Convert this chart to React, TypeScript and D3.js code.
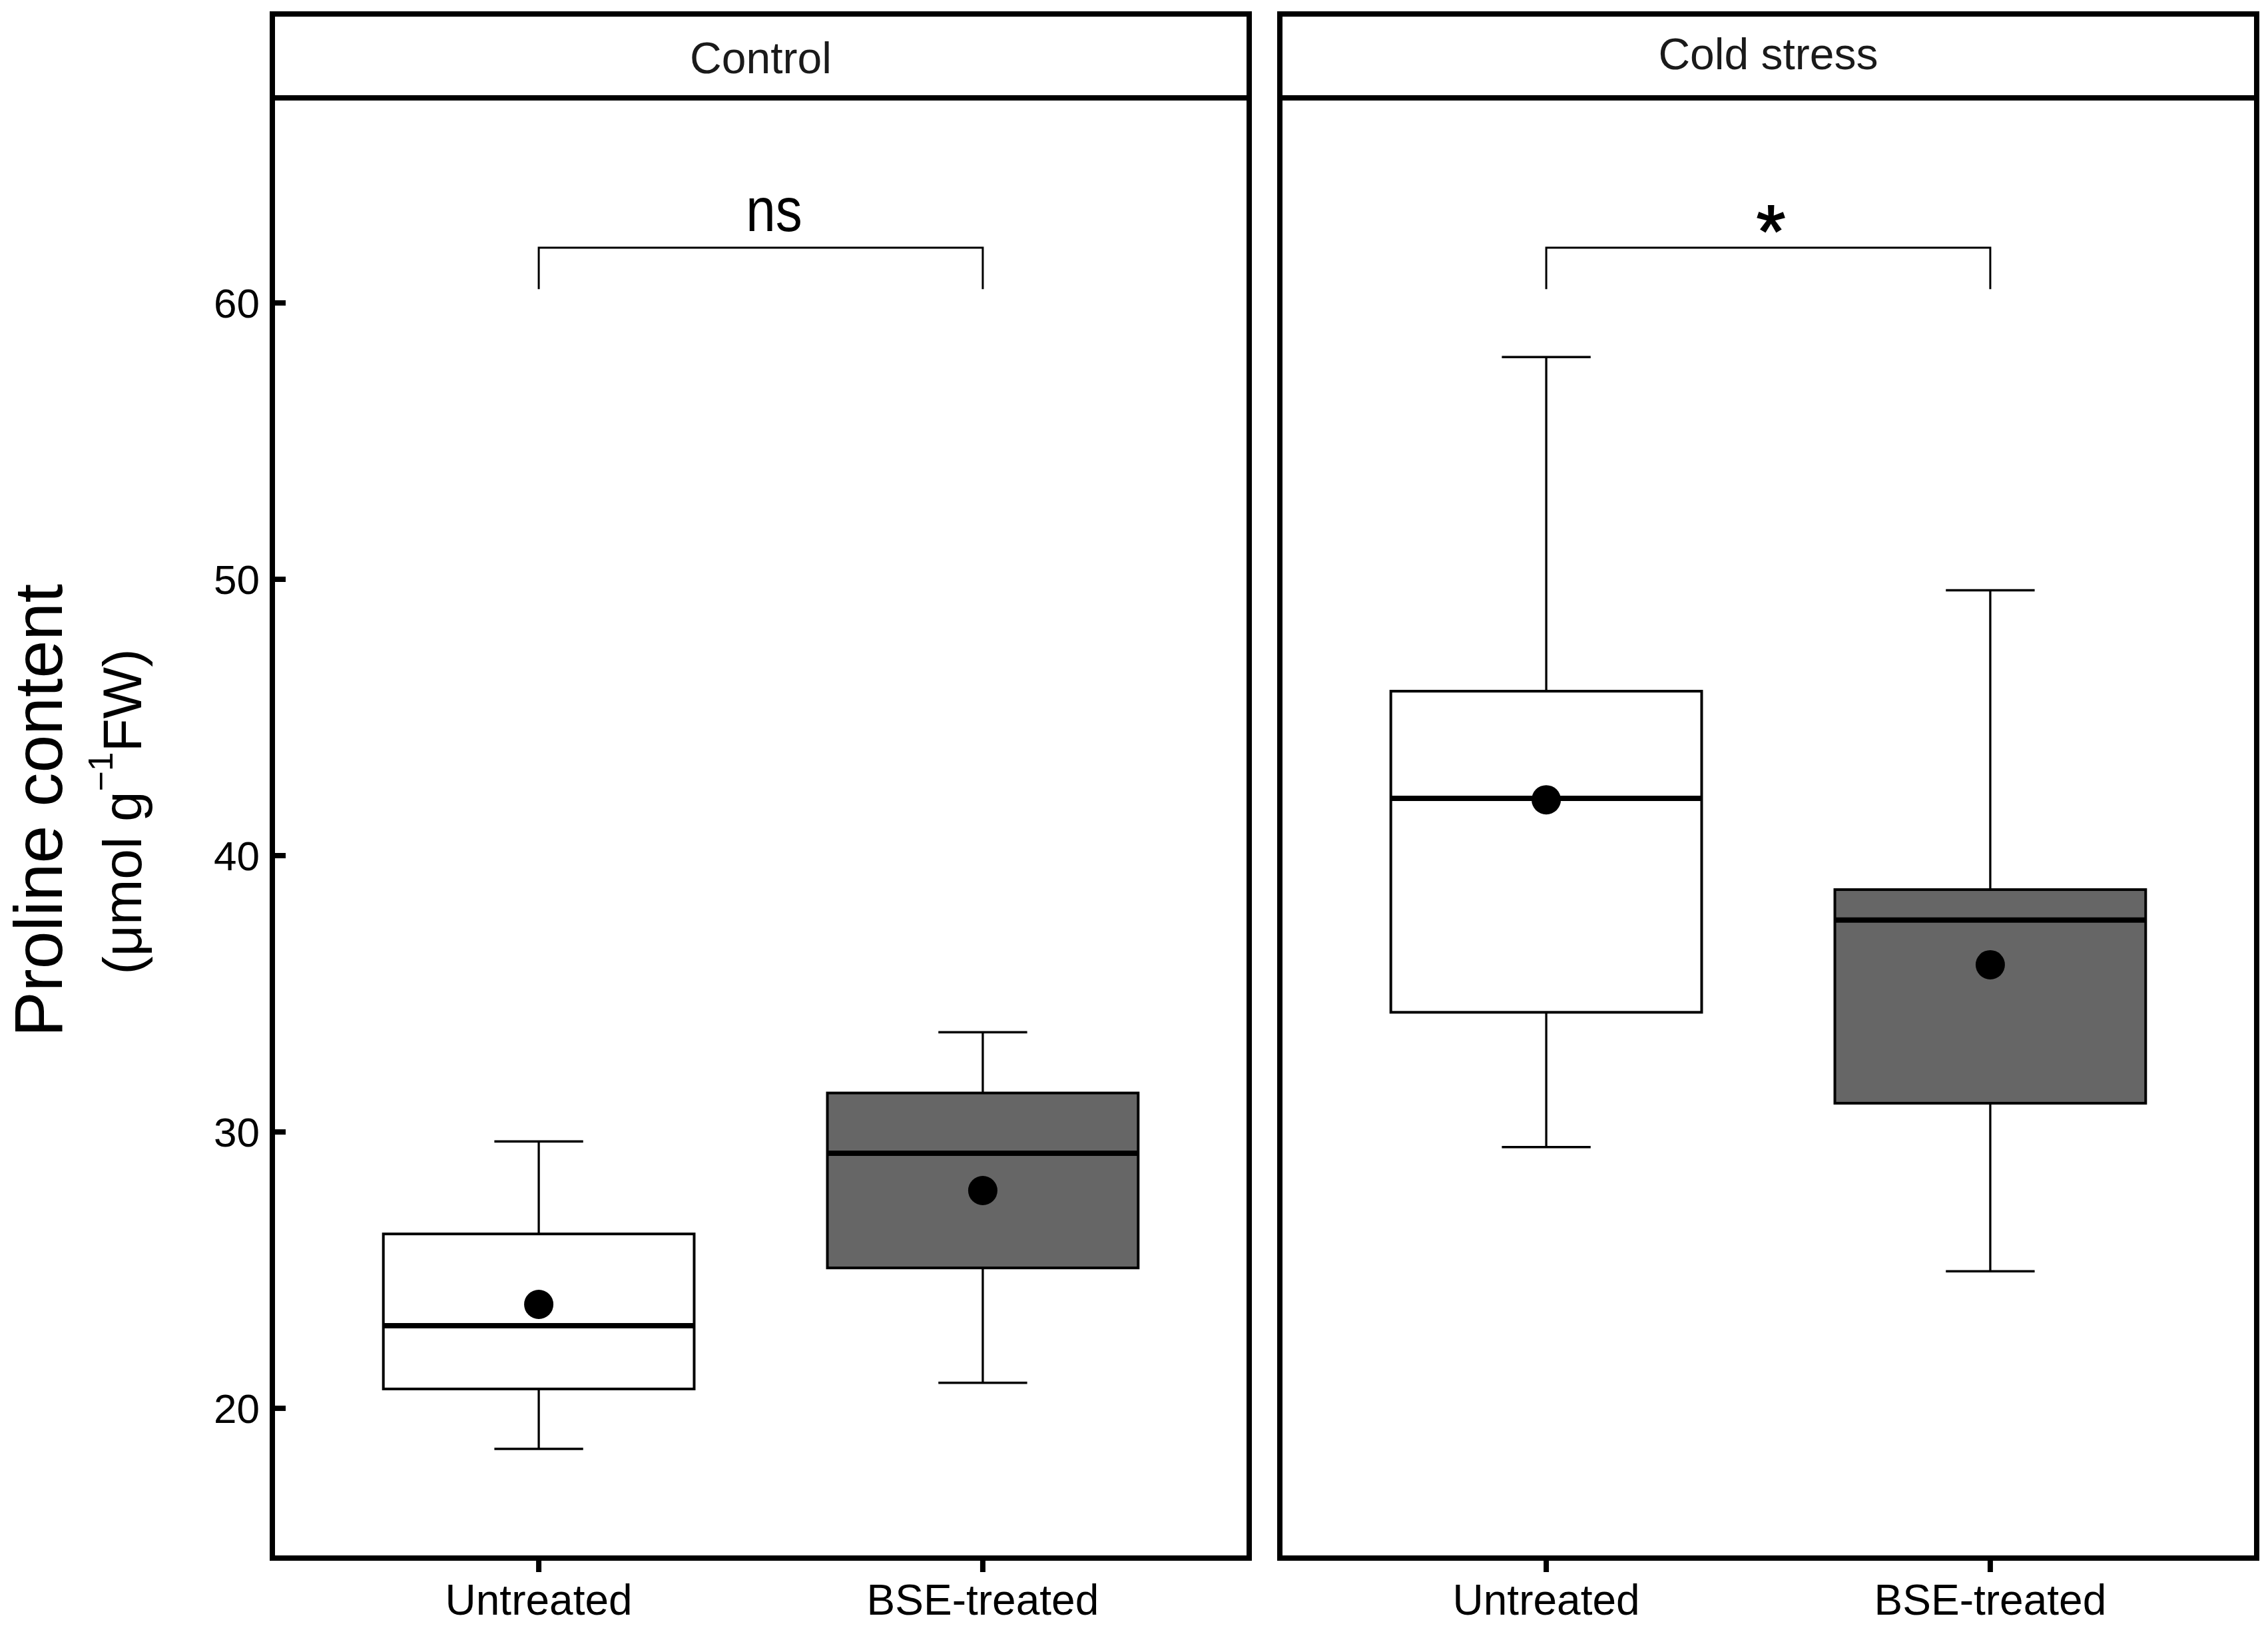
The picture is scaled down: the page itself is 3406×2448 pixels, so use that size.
import React from "react";
import * as d3 from "d3";

// ---- data ----
const facets = ["Control", "Cold stress"];
const groups = ["Untreated", "BSE-treated"];
const groupFill = ["#ffffff", "#666666"];
// [facet][group]
const whiskerLow = [
  [18.53, 20.92],
  [29.45, 24.96],
];
const q1 = [
  [20.7, 25.08],
  [34.33, 31.04],
];
const median = [
  [22.99, 29.23],
  [42.07, 37.67],
];
const q3 = [
  [26.31, 31.41],
  [45.95, 38.77],
];
const whiskerHigh = [
  [29.66, 33.61],
  [58.04, 49.6],
];
const meanVal = [
  [23.76, 27.88],
  [42.02, 36.05],
];
const sigLabels = ["ns", "*"];
const bracketY = 62;
const bracketTickY = 60.5;
const yTicks = [20, 30, 40, 50, 60];
const yDomain = [14.58, 67.42];

const FONT = "'Liberation Sans', Arial, Helvetica, sans-serif";

export default function App() {
  const width = 3406;
  const height = 2448;
  const panelW = 1467;
  const panelLefts = [409, 1922];
  const stripTop = 21;
  const panelTop = 147;
  const panelBottom = 2340;

  const y = d3.scaleLinear().domain(yDomain).range([panelBottom, panelTop]);
  const makeX = (left: number) =>
    d3.scaleLinear().domain([0.4, 2.6]).range([left, left + panelW]);
  const unit = panelW / 2.2;
  const boxHalf = 0.35 * unit;
  const capHalf = 0.1 * unit;

  return (
    <svg
      width={width}
      height={height}
      style={{ position: "absolute", left: 0, top: 0, background: "#fff" }}
      fontFamily={FONT}
    >
      <rect x={0} y={0} width={width} height={height} fill="#fff" />
      {facets.map((facet, fi) => {
        const left = panelLefts[fi];
        const x = makeX(left);
        const cx0 = x(1);
        const cx1 = x(2);
        const midBracket = (cx0 + cx1) / 2;
        return (
          <g key={facet}>
            {/* strip */}
            <rect
              x={left}
              y={stripTop}
              width={panelW}
              height={panelTop - stripTop}
              fill="#fff"
              stroke="#000"
              strokeWidth={8}
            />
            <text
              x={left + panelW / 2}
              y={fi === 0 ? 110 : 104}
              fontSize={66}
              textAnchor="middle"
              fill="#1a1a1a"
            >
              {facet}
            </text>
            {/* boxes */}
            {groups.map((g, gi) => {
              const cx = x(gi + 1);
              return (
                <g key={g}>
                  <line
                    x1={cx}
                    x2={cx}
                    y1={y(whiskerHigh[fi][gi])}
                    y2={y(q3[fi][gi])}
                    stroke="#000"
                    strokeWidth={3.3}
                  />
                  <line
                    x1={cx}
                    x2={cx}
                    y1={y(q1[fi][gi])}
                    y2={y(whiskerLow[fi][gi])}
                    stroke="#000"
                    strokeWidth={3.3}
                  />
                  <line
                    x1={cx - capHalf}
                    x2={cx + capHalf}
                    y1={y(whiskerHigh[fi][gi])}
                    y2={y(whiskerHigh[fi][gi])}
                    stroke="#000"
                    strokeWidth={3.5}
                  />
                  <line
                    x1={cx - capHalf}
                    x2={cx + capHalf}
                    y1={y(whiskerLow[fi][gi])}
                    y2={y(whiskerLow[fi][gi])}
                    stroke="#000"
                    strokeWidth={3.5}
                  />
                  <rect
                    x={cx - boxHalf}
                    y={y(q3[fi][gi])}
                    width={boxHalf * 2}
                    height={y(q1[fi][gi]) - y(q3[fi][gi])}
                    fill={groupFill[gi]}
                    stroke="#000"
                    strokeWidth={4}
                  />
                  <line
                    x1={cx - boxHalf}
                    x2={cx + boxHalf}
                    y1={y(median[fi][gi])}
                    y2={y(median[fi][gi])}
                    stroke="#000"
                    strokeWidth={8}
                  />
                  <circle cx={cx} cy={y(meanVal[fi][gi])} r={22} fill="#000" />
                </g>
              );
            })}
            {/* bracket */}
            <path
              d={`M${cx0},${y(bracketTickY)}V${y(bracketY)}H${cx1}V${y(bracketTickY)}`}
              fill="none"
              stroke="#000"
              strokeWidth={3}
            />
            {fi === 0 ? (
              <text
                transform={`translate(${midBracket + 20},${y(bracketY) - 25}) scale(1,1.15)`}
                fontSize={80}
                textAnchor="middle"
                fill="#000"
              >
                {sigLabels[fi]}
              </text>
            ) : (
              <text
                x={midBracket + 4}
                y={y(bracketY) + 14}
                fontSize={112}
                textAnchor="middle"
                fill="#000"
                stroke="#000"
                strokeWidth={2}
              >
                {sigLabels[fi]}
              </text>
            )}
            {/* panel border */}
            <rect
              x={left}
              y={panelTop}
              width={panelW}
              height={panelBottom - panelTop}
              fill="none"
              stroke="#000"
              strokeWidth={8}
            />
            {/* x ticks + labels */}
            {groups.map((g, gi) => (
              <g key={"xt" + g}>
                <line
                  x1={x(gi + 1)}
                  x2={x(gi + 1)}
                  y1={panelBottom}
                  y2={panelBottom + 21}
                  stroke="#000"
                  strokeWidth={8}
                />
                <text
                  x={x(gi + 1)}
                  y={2425}
                  fontSize={64}
                  textAnchor="middle"
                  fill="#000"
                >
                  {g}
                </text>
              </g>
            ))}
          </g>
        );
      })}
      {/* y axis ticks (inward) and labels on first panel */}
      {yTicks.map((t) => (
        <g key={"yt" + t}>
          <line
            x1={panelLefts[0]}
            x2={panelLefts[0] + 20}
            y1={y(t)}
            y2={y(t)}
            stroke="#000"
            strokeWidth={8}
          />
          <text
            x={390}
            y={y(t) + 22}
            fontSize={62}
            textAnchor="end"
            fill="#000"
          >
            {t}
          </text>
        </g>
      ))}
      {/* y title */}
      <text
        transform={`translate(93,1217) rotate(-90)`}
        fontSize={102}
        textAnchor="middle"
        fill="#000"
      >
        Proline content
      </text>
      <text
        transform={`translate(212,1219) rotate(-90)`}
        fontSize={82}
        textAnchor="middle"
        fill="#000"
      >
        (μmol g
        <tspan fontSize={52} dy={-43}>
          −1
        </tspan>
        <tspan dy={43}>FW)</tspan>
      </text>
    </svg>
  );
}
